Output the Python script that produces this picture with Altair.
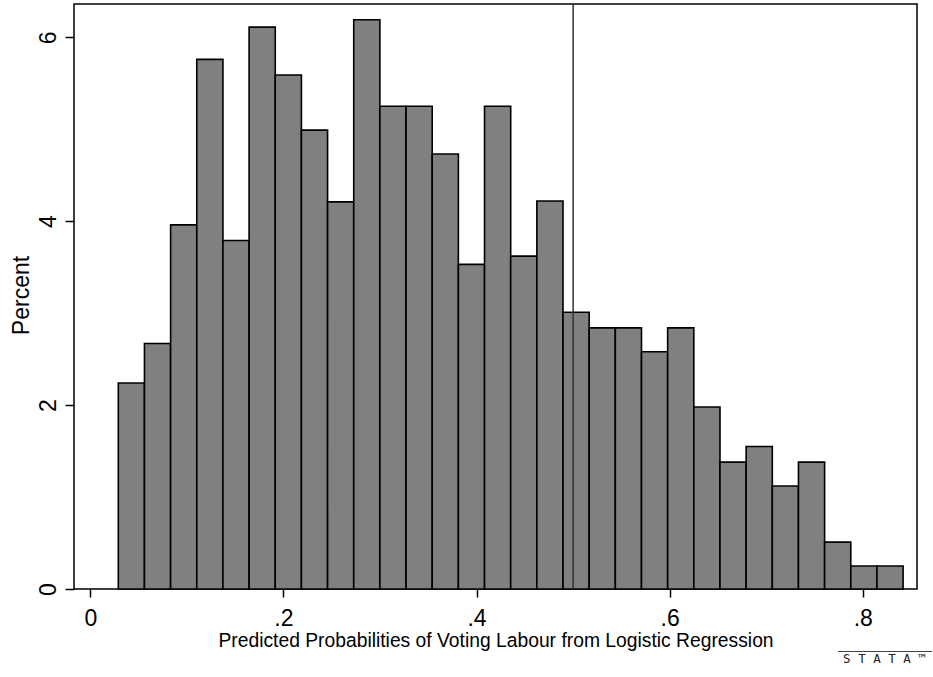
import altair as alt
import pandas as pd

# Histogram bar heights (percent)
percent = [2.24, 2.67, 3.96, 5.76, 3.79, 6.11, 5.59, 4.99, 4.21, 6.19,
           5.25, 5.25, 4.73, 3.53, 5.25, 3.62, 4.22, 3.01, 2.84, 2.84,
           2.58, 2.84, 1.98, 1.38, 1.55, 1.12, 1.38, 0.51, 0.25, 0.25]
bin_start = 0.0290
bin_width = 0.02709
cutoff = [0.5]
x_ticks = [0, 0.2, 0.4, 0.6, 0.8]
y_ticks = [0, 2, 4, 6]

df = pd.DataFrame({
    "x0": [bin_start + i * bin_width for i in range(len(percent))],
    "x1": [bin_start + (i + 1) * bin_width for i in range(len(percent))],
    "pct": percent,
})
df["zero"] = 0.0

FONT = "Liberation Sans"
xs = alt.Scale(domain=[-0.01687, 0.8561], nice=False, zero=False)
ys = alt.Scale(domain=[0, 6.362], nice=False)

bars = alt.Chart(df).mark_rect(
    fill="#808080", stroke="black", strokeWidth=1.6
).encode(
    x=alt.X("x0:Q", scale=xs, axis=alt.Axis(
        values=x_ticks, title="Predicted Probabilities of Voting Labour from Logistic Regression",
        labelExpr="datum.value == 0 ? '0' : replace(format(datum.value, '.1f'), '0.', '.')",
        grid=False, domain=False, tickSize=8, tickColor="black", tickWidth=1.5,
        labelFont=FONT, labelFontSize=23, labelColor="black", labelPadding=10,
        labelBaseline="top",
        titleFont=FONT, titleFontSize=19.3, titleFontWeight="normal", titleColor="black",
        titleBaseline="top", titleY=42.5)),
    x2="x1:Q",
    y=alt.Y("pct:Q", scale=ys, axis=alt.Axis(
        values=y_ticks, title="Percent", grid=False, domain=False,
        tickSize=9, tickColor="black", tickWidth=1.5,
        labelAngle=270, labelAlign="center", labelBaseline="alphabetic",
        labelFont=FONT, labelFontSize=23, labelColor="black", labelPadding=10,
        titleFont=FONT, titleFontSize=23, titleFontWeight="normal", titleColor="black",
        titleAngle=270, titleAlign="center", titleBaseline="alphabetic",
        titleX=-46, titleY=291)),
    y2="zero:Q",
)

rule = alt.Chart(pd.DataFrame({"c": cutoff})).mark_rule(
    color="#333333", strokeWidth=1.5
).encode(x=alt.X("c:Q", scale=xs))

logo_line = alt.Chart(pd.DataFrame({"a": [0]})).mark_rule(
    color="#444444", strokeWidth=1.2
).encode(x=alt.value(764), x2=alt.value(858), y=alt.value(647.5))

logo_text = alt.Chart(pd.DataFrame({"t": ["S T A T A ™"]})).mark_text(
    font="DejaVu Sans Mono", fontSize=12.5, color="#222222",
    align="center", baseline="alphabetic"
).encode(x=alt.value(810.5), y=alt.value(659), text="t:N")

chart = alt.layer(bars, rule, logo_line, logo_text).properties(
    width=843, height=585,
    autosize=alt.AutoSizeParams(type="none"),
    padding={"left": 74, "top": 4, "right": 16, "bottom": 88},
    background="white",
).configure_view(stroke="black", strokeWidth=1.5)

chart.save("out.html", embed_options={"renderer": "svg", "actions": False})
